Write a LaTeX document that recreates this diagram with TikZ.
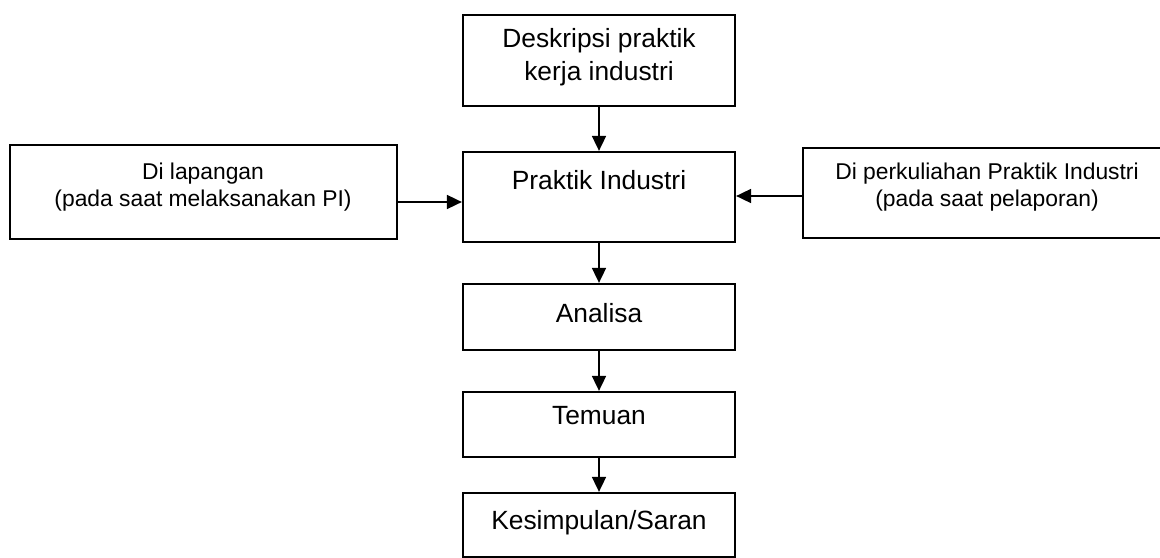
\documentclass[tikz,border=0pt]{standalone}
\usepackage{fontspec}
\setmainfont{Liberation Sans}
\usetikzlibrary{arrows.meta}

\newcommand{\bigtxt}{\fontsize{15}{19}\selectfont}
\newcommand{\smalltxt}{\fontsize{13}{15.3}\selectfont}

\tikzset{
  box/.style={draw, line width=1.3pt, minimum width=5.44cm},
  sidebox/.style={draw, line width=1.3pt},
  conn/.style={-{Triangle[length=3mm,width=2.8mm]}, line width=1pt},
  bigtext/.style={font=\bigtxt, align=center, inner sep=0pt},
  smalltext/.style={font=\smalltxt, align=center, inner sep=0pt}
}

\begin{document}
\begin{tikzpicture}[x=0.02cm, y=-0.02cm]
  \useasboundingbox (0,0) rectangle (1160,558);

  % main column
  \node[box, minimum height=1.82cm] (deskripsi) at (599,60.5) {};
  \node[bigtext] (deskripsitxt) at (599,57) {Deskripsi praktik\\kerja industri};

  \node[box, minimum height=1.8cm] (praktik) at (599,197) {};
  \node[bigtext] (praktiktxt) at (599,180) {Praktik Industri};

  \node[box, minimum height=1.32cm] (analisa) at (599,317) {};
  \node[bigtext] (analisatxt) at (599,313) {Analisa};

  \node[box, minimum height=1.3cm] (temuan) at (599,424.5) {};
  \node[bigtext] (temuantxt) at (599,416) {Temuan};

  \node[box, minimum height=1.28cm] (kesimpulan) at (599,525) {};
  \node[bigtext] (kesimpulantxt) at (599,523) {Kesimpulan/Saran};

  % side boxes
  \node[sidebox, minimum width=7.74cm, minimum height=1.88cm] (lapangan) at (203.5,192) {};
  \node[smalltext] (lapangantxt) at (203,187) {Di lapangan\\(pada saat melaksanakan PI)};

  \node[sidebox, minimum width=7.36cm, minimum height=1.8cm] (kuliah) at (987,193) {};
  \node[smalltext] (kuliahtxt) at (987,187) {Di perkuliahan Praktik Industri\\(pada saat pelaporan)};

  % connectors
  \draw[conn] (deskripsi.south) -- (praktik.north);
  \draw[conn] (praktik.south) -- (analisa.north);
  \draw[conn] (analisa.south) -- (temuan.north);
  \draw[conn] (temuan.south) -- (kesimpulan.north);

  \coordinate (lapout) at ([yshift=-0.2cm]lapangan.east);
  \draw[conn] (lapout) -- (lapout -| praktik.west);
  \coordinate (kuliahout) at ([yshift=-0.06cm]kuliah.west);
  \draw[conn] (kuliahout) -- (kuliahout -| praktik.east);
\end{tikzpicture}
\end{document}
